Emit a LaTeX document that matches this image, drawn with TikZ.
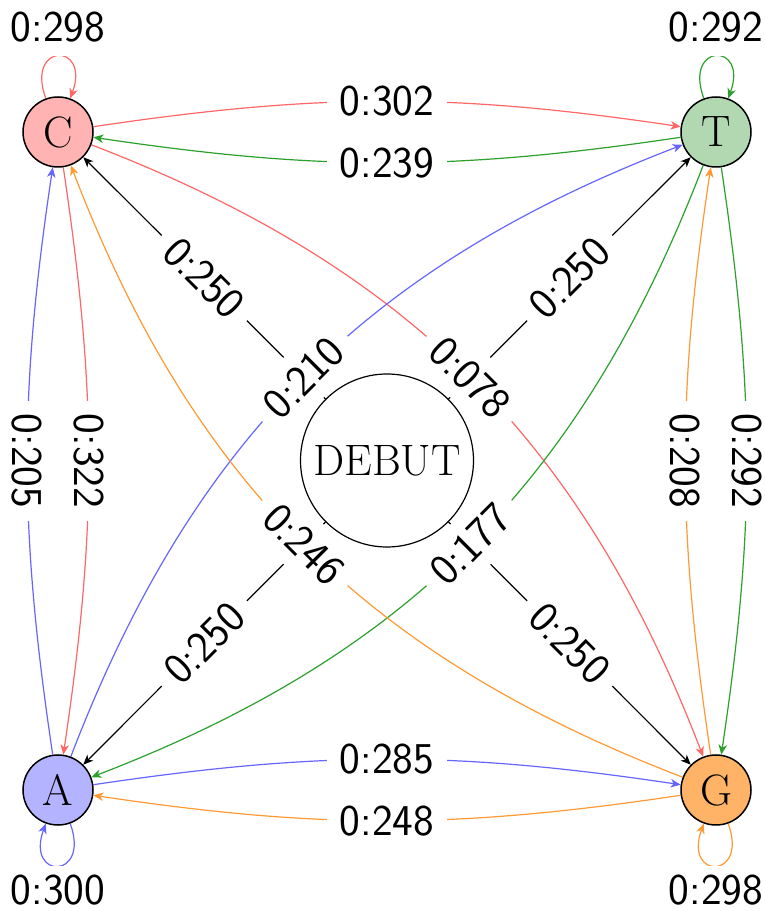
\documentclass[tikz,border=0pt]{standalone}
\usepackage{fontspec}
\usetikzlibrary{arrows.meta}
\pgfdeclarelayer{edges}
\pgfsetlayers{edges,main}
\definecolor{cred}{RGB}{255,102,102}
\definecolor{cgreen}{RGB}{44,160,44}
\definecolor{cblue}{RGB}{102,102,255}
\definecolor{corange}{RGB}{255,153,51}
\definecolor{fred}{RGB}{255,179,179}
\definecolor{fgreen}{RGB}{178,216,178}
\definecolor{fblue}{RGB}{179,179,255}
\definecolor{forange}{RGB}{255,179,102}
\begin{document}
\begin{tikzpicture}[x=1pt,y=1pt,
  bigfont/.style={font=\fontsize{44}{52}\selectfont},
  state/.style={circle,draw,line width=1.5pt,minimum size=70pt,inner sep=0pt,bigfont},
  startstate/.style={circle,draw,line width=1.2pt,minimum size=173pt,inner sep=0pt,bigfont},
  trans/.style={line width=1.2pt,-{Stealth[length=10pt,width=8.5pt,inset=3pt]}},
  lbl/.style={fill=white,text=black,inner sep=13pt,font=\sffamily\fontsize{44}{52}\selectfont},
  side/.style={bend left=8.5},
  cross/.style={bend left=24}]
\useasboundingbox (0,0) rectangle (765,911);

% states
\node[startstate] (D) at (387,450.5) {DEBUT};
\node[state,fill=fred]    (C) at (58,779)  {C};
\node[state,fill=fgreen]  (T) at (716,779) {T};
\node[state,fill=fblue]   (A) at (58,121)  {A};
\node[state,fill=forange] (G) at (716,121) {G};

\begin{pgfonlayer}{edges}
% initial probabilities
\draw[trans] (D) -- node[lbl,rotate=-45] {0:250} (C);
\draw[trans] (D) -- node[lbl,rotate=45]  {0:250} (T);
\draw[trans] (D) -- node[lbl,rotate=45]  {0:250} (A);
\draw[trans] (D) -- node[lbl,rotate=-45] {0:250} (G);

% transitions leaving C
\draw[trans,cred] (C) to[side] node[lbl] {0:302} (T);
\draw[trans,cred] (C) to[side] node[lbl,rotate=-90] {0:322} (A);
\draw[trans,cred] (C) to[cross] node[lbl,rotate=-45] {0:078} (G);
\draw[trans,cred] (C.110) .. controls +(110:60) and +(70:60) .. node[lbl,above] {0:298} (C.70);

% transitions leaving T
\draw[trans,cgreen] (T) to[side] node[lbl] {0:239} (C);
\draw[trans,cgreen] (T) to[side] node[lbl,rotate=-90] {0:292} (G);
\draw[trans,cgreen] (T) to[cross] node[lbl,rotate=45] {0:177} (A);
\draw[trans,cgreen] (T.110) .. controls +(110:60) and +(70:60) .. node[lbl,above] {0:292} (T.70);

% transitions leaving A
\draw[trans,cblue] (A) to[side] node[lbl,rotate=-90] {0:205} (C);
\draw[trans,cblue] (A) to[side] node[lbl] {0:285} (G);
\draw[trans,cblue] (A) to[cross] node[lbl,rotate=45] {0:210} (T);
\draw[trans,cblue] (A.-70) .. controls +(-70:60) and +(-110:60) .. node[lbl,below,inner sep=8pt] {0:300} (A.-110);

% transitions leaving G
\draw[trans,corange] (G) to[side] node[lbl] {0:248} (A);
\draw[trans,corange] (G) to[side] node[lbl,rotate=-90] {0:208} (T);
\draw[trans,corange] (G) to[cross] node[lbl,rotate=-45] {0:246} (C);
\draw[trans,corange] (G.-70) .. controls +(-70:60) and +(-110:60) .. node[lbl,below,inner sep=8pt] {0:298} (G.-110);
\end{pgfonlayer}
\end{tikzpicture}
\end{document}
